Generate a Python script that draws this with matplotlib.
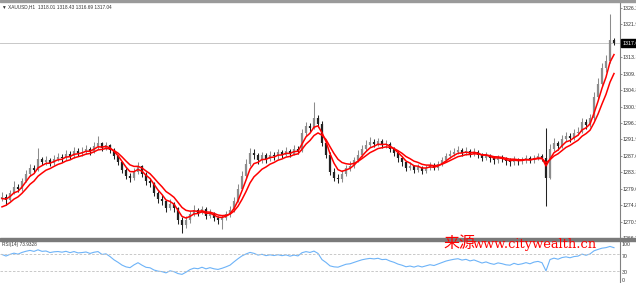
import numpy as np
import matplotlib.pyplot as plt
from matplotlib.patches import Rectangle

# ---- data (XAUUSD H1) ----
first_open = 1276.5
closes = [
    1277.0, 1276.2, 1278.0, 1279.5, 1279.0, 1281.2, 1283.0, 1284.5, 1284.0, 1286.8,
    1286.0, 1286.6, 1285.8, 1286.9, 1287.3, 1287.0, 1288.2, 1287.6, 1289.0, 1288.4,
    1288.8, 1289.5, 1288.9, 1290.2, 1291.0, 1289.8, 1290.4, 1289.2, 1287.5, 1286.0,
    1284.0, 1282.5, 1281.8, 1283.5, 1285.0, 1283.0, 1281.0, 1280.5, 1278.0, 1276.5,
    1275.8, 1274.0, 1275.2, 1274.0, 1271.0, 1269.5, 1270.8, 1272.5, 1273.5, 1272.8,
    1273.8, 1272.0, 1272.8, 1271.5, 1270.8, 1271.5, 1272.4, 1273.5, 1276.0, 1279.0,
    1282.5, 1285.5, 1288.5, 1287.8, 1286.5, 1287.8, 1286.8, 1288.0, 1287.5, 1288.6,
    1288.0, 1289.0, 1288.2, 1289.5, 1289.0, 1293.5, 1295.5, 1295.0, 1297.5, 1296.0,
    1291.0, 1288.0, 1283.5, 1282.0, 1281.5, 1283.0, 1284.5, 1285.0, 1286.5, 1288.0,
    1289.5, 1290.5, 1291.2, 1290.8, 1291.5, 1290.5, 1290.8, 1289.5, 1288.5, 1287.0,
    1286.0, 1284.5, 1285.0, 1284.0, 1284.8, 1283.8, 1284.5, 1285.2, 1284.6, 1285.5,
    1286.5, 1287.5, 1288.2, 1288.8, 1289.2, 1288.5, 1289.0, 1288.2, 1288.8, 1288.0,
    1287.2, 1287.8, 1287.0, 1286.5, 1287.2, 1286.8, 1286.2, 1286.0, 1286.8, 1286.2,
    1286.5, 1287.0, 1286.5, 1287.2, 1287.5, 1287.0, 1282.0, 1289.5, 1291.0, 1290.2,
    1292.0, 1292.8, 1292.2, 1293.5, 1294.0, 1296.5, 1295.8, 1297.5, 1303.0, 1306.5,
    1310.5, 1312.5, 1318.01, 1317.04,
]
highs = [
    1278.2, 1277.6, 1278.8, 1281.2, 1280.4, 1282.0, 1284.0, 1285.6, 1285.2, 1289.6,
    1287.4, 1287.5, 1287.0, 1287.8, 1288.4, 1288.1, 1289.3, 1288.9, 1290.1, 1289.6,
    1289.9, 1290.6, 1290.0, 1291.2, 1292.8, 1291.4, 1291.3, 1290.7, 1289.6, 1287.9,
    1286.3, 1284.5, 1283.2, 1284.4, 1286.1, 1285.3, 1283.4, 1281.8, 1280.9, 1278.6,
    1277.4, 1276.2, 1276.3, 1275.6, 1274.4, 1271.8, 1272.0, 1273.4, 1274.8, 1274.1,
    1274.6, 1274.2, 1273.7, 1273.1, 1272.0, 1272.3, 1273.2, 1274.5, 1276.9, 1280.2,
    1283.6, 1286.8, 1289.8, 1289.5, 1288.3, 1288.6, 1288.3, 1288.9, 1288.7, 1289.4,
    1289.2, 1289.9, 1289.5, 1290.4, 1290.2, 1294.6, 1296.6, 1296.3, 1301.6, 1298.4,
    1296.8, 1291.9, 1288.6, 1284.4, 1283.0, 1283.9, 1285.4, 1286.2, 1287.4, 1289.1,
    1290.6, 1291.8, 1292.6, 1292.0, 1292.4, 1292.0, 1291.7, 1291.2, 1290.0, 1289.0,
    1287.6, 1286.4, 1286.0, 1285.4, 1285.6, 1285.1, 1285.3, 1286.1, 1285.8, 1286.4,
    1287.4, 1288.4, 1289.1, 1289.8, 1290.3, 1289.7, 1289.9, 1289.4, 1289.6, 1289.2,
    1288.4, 1288.6, 1288.2, 1287.6, 1288.0, 1287.9, 1287.3, 1287.0, 1287.6, 1287.2,
    1287.3, 1287.8, 1287.6, 1288.0, 1288.4, 1288.2, 1295.0, 1290.8, 1292.2, 1291.6,
    1293.0, 1294.0, 1293.6, 1294.6, 1295.2, 1297.6, 1297.2, 1298.6, 1304.2, 1308.0,
    1311.8, 1313.9, 1324.6, 1318.43,
]
lows = [
    1275.8, 1274.8, 1275.9, 1277.6, 1278.2, 1278.6, 1280.8, 1282.5, 1283.1, 1283.6,
    1285.2, 1285.4, 1284.9, 1285.3, 1286.2, 1286.0, 1286.6, 1286.8, 1287.2, 1287.5,
    1287.6, 1288.1, 1288.0, 1288.4, 1289.5, 1289.0, 1289.2, 1288.3, 1286.9, 1285.2,
    1283.2, 1281.6, 1280.8, 1281.4, 1283.0, 1282.2, 1280.1, 1279.6, 1277.2, 1275.3,
    1274.8, 1273.1, 1273.5, 1273.0, 1269.8, 1267.6, 1268.9, 1270.2, 1272.0, 1271.9,
    1272.4, 1271.2, 1271.4, 1270.6, 1269.9, 1268.6, 1270.9, 1271.8, 1273.0, 1275.6,
    1278.7, 1282.0, 1285.1, 1286.8, 1285.6, 1285.9, 1285.8, 1286.2, 1286.6, 1286.9,
    1287.1, 1287.6, 1287.3, 1287.8, 1288.1, 1288.6, 1292.8, 1294.0, 1294.6, 1295.1,
    1290.2, 1287.0, 1282.6, 1281.0, 1280.6, 1280.9, 1282.4, 1283.8, 1284.5, 1286.0,
    1287.4, 1289.0, 1290.0, 1289.9, 1290.2, 1289.6, 1289.8, 1288.6, 1287.6, 1286.1,
    1285.0, 1283.6, 1283.9, 1283.1, 1283.4, 1282.9, 1283.2, 1284.0, 1283.9, 1284.1,
    1285.0, 1286.1, 1287.0, 1287.6, 1288.1, 1287.7, 1287.9, 1287.4, 1287.6, 1287.1,
    1286.3, 1286.5, 1286.1, 1285.6, 1285.9, 1286.0, 1285.3, 1285.1, 1285.4, 1285.4,
    1285.6, 1285.9, 1285.7, 1285.9, 1286.6, 1286.2, 1274.5, 1281.5, 1288.9, 1289.3,
    1289.8, 1291.5, 1291.3, 1291.8, 1293.0, 1293.6, 1294.8, 1295.2, 1297.1, 1302.4,
    1305.8, 1309.6, 1312.0, 1316.69,
]
price_ticks = [1326.25, 1321.96, 1317.68, 1313.39, 1309.10, 1304.81, 1300.53,
               1296.24, 1291.95, 1287.66, 1283.38, 1279.09, 1274.80, 1270.51, 1266.23]
rsi_ticks = [100, 70, 30, 0]
rsi_label_y = [245, 256, 272, 281]          # pixel rows of the RSI scale labels
rsi_caption = 'RSI(14) 73.9328'
fast_period, slow_period = 4, 8
fast_seed, slow_seed = 1276.2, 1273.6       # MA values at the left edge
rsi_seed_gain, rsi_seed_loss = 0.80, 0.38   # RSI ~68 at the left edge

closes = np.array(closes)
highs = np.array(highs)
lows = np.array(lows)
opens = np.concatenate([[first_open], closes[:-1]])
n = len(closes)
x = np.arange(n)


def ema(values, period, seed):
    k = 2.0 / (period + 1)
    out = np.empty_like(values)
    prev = seed
    for i, v in enumerate(values):
        prev = v * k + prev * (1 - k)
        out[i] = prev
    return out


def rsi(values, period, au, ad):
    d = np.diff(np.concatenate([[first_open], values]))
    out = np.empty(len(values))
    for i, dv in enumerate(d):
        au = (au * (period - 1) + max(dv, 0)) / period
        ad = (ad * (period - 1) + max(-dv, 0)) / period
        out[i] = 100.0 if ad == 0 else 100 - 100 / (1 + au / ad)
    return out


W, H = 636, 283
fig = plt.figure(figsize=(W / 100, H / 100), dpi=100)
fig.patch.set_facecolor('white')
small = dict(family=['Liberation Sans', 'DejaVu Sans'], color='#333333')

ax_r = 620
main_top, main_bot = 3, 238
ax = fig.add_axes([0, 1 - main_bot / H, ax_r / W, (main_bot - main_top) / H])
rax = fig.add_axes([0, 0, ax_r / W, (H - 241) / H])

# candles
up = closes >= opens
body_lo = np.minimum(opens, closes)
body_hi = np.maximum(opens, closes)
cols = np.where(up, '#8c8c8c', '#222222')
ax.vlines(x, lows, highs, colors=cols, linewidth=0.75)
ax.vlines(x, body_lo, np.maximum(body_hi, body_lo + 0.15), colors=cols, linewidth=1.6)

ax.plot(x, ema(closes, fast_period, fast_seed), color='#ff0000', lw=1.1)
ax.plot(x, ema(closes, slow_period, slow_seed), color='#ff0000', lw=1.1)
ax.axhline(closes[-1], color='#c8c8c8', lw=0.7, zorder=0)

ax.set_xlim(-0.5, n + 0.5)
ax.set_ylim(1326.25 - (238 - 8) / 3.84, 1326.25 + 5 / 3.84)
for s in ['top', 'left', 'bottom']:
    ax.spines[s].set_visible(False)
ax.spines['right'].set_color('#808080')
ax.set_xticks([])
ax.yaxis.tick_right()
ax.set_yticks(price_ticks)
# the label under the current-price box is hidden, as in the terminal
ax.set_yticklabels(['' if abs(v - closes[-1]) < 1.5 else f'{v:.2f}' for v in price_ticks],
                   **small)
ax.tick_params(axis='y', length=1.5, width=0.6, color='#808080', labelsize=3.8, pad=0.6)
ax.text(1.0035, closes[-1], f'{closes[-1]:.2f}', transform=ax.get_yaxis_transform(),
        fontsize=3.8, color='white', va='center', ha='left', clip_on=False,
        family=['Liberation Sans', 'DejaVu Sans'],
        bbox=dict(boxstyle='square,pad=0.25', fc='black', ec='black'))

ax.text(0.004, 0.995, '▼ XAUUSD,H1  1318.01 1318.43 1316.69 1317.04',
        transform=ax.transAxes, fontsize=3.4, va='top', ha='left', **small)

# RSI panel
r = rsi(closes, 14, rsi_seed_gain, rsi_seed_loss)
rax.plot(x, r, color='#6db3f8', lw=0.8)
for lvl in (70, 30):
    rax.axhline(lvl, color='#c0c0c0', lw=0.6, ls=(0, (3, 2)))
rax.set_xlim(-0.5, n + 0.5)
rax.set_ylim(3, 100)
for s in ['top', 'left', 'bottom']:
    rax.spines[s].set_visible(False)
rax.spines['right'].set_color('#808080')
rax.set_xticks([])
rax.set_yticks([])
for v, py in zip(rsi_ticks, rsi_label_y):
    fig.text(622 / W, 1 - py / H, str(v), fontsize=3.8, va='center', ha='left', **small)
rax.text(0.004, 0.97, rsi_caption, transform=rax.transAxes,
         fontsize=3.4, va='top', ha='left', **small)

# frame lines
fig.patches.append(Rectangle((0, 1 - 241 / H), 1, 3 / H, transform=fig.transFigure,
                             color='#7a7a7a', zorder=5))
fig.patches.append(Rectangle((0, 1 - 2 / H), 1, 2 / H, transform=fig.transFigure,
                             color='#9a9a9a', zorder=5))

# watermark
fig.text(443 / W, 1 - 248 / H, '来源', fontsize=11.5, color='#ff0000',
         family=['Noto Sans CJK SC'], ha='left', va='baseline', zorder=10)
fig.text(473 / W, 1 - 248 / H, 'www.citywealth.cn', fontsize=9.4, color='#ff0000',
         family=['DejaVu Serif'], ha='left', va='baseline', zorder=10)

fig.savefig('out.png', dpi=100)
